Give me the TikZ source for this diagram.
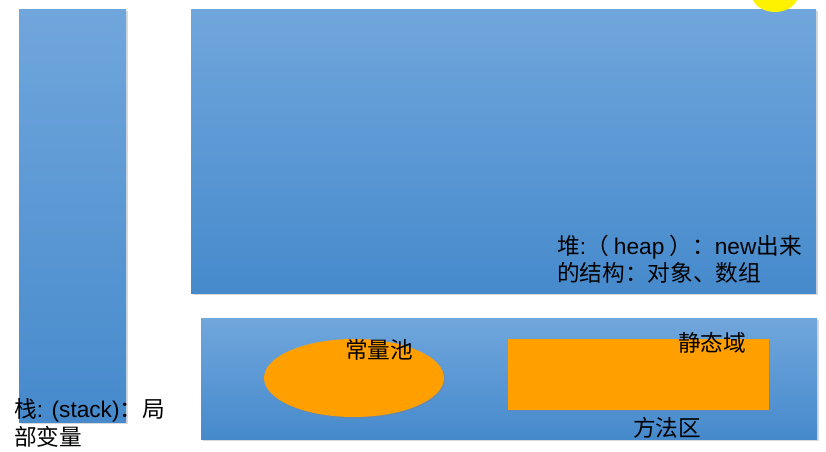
\documentclass[tikz,border=0pt]{standalone}
\usepackage{fontspec}
\setmainfont{Noto Sans CJK SC}
\newfontfamily\latinfont{Liberation Sans}
\usetikzlibrary{shadows}
\definecolor{paneltop}{RGB}{112,166,220}
\definecolor{panelbot}{RGB}{70,138,204}
\definecolor{poolorange}{RGB}{255,160,0}
\newcommand{\lat}[1]{{\latinfont #1}}
\tikzset{
  panel/.style={top color=paneltop, bottom color=panelbot,
    drop shadow={opacity=0.3, shadow xshift=1.2pt, shadow yshift=-1.2pt}},
  pool/.style={fill=poolorange,
    drop shadow={opacity=0.35, shadow xshift=1pt, shadow yshift=-1pt}},
  areatext/.style={inner sep=0pt, anchor=west, font=\fontsize{17}{20}\selectfont},
}
\begin{document}
\begin{tikzpicture}[x=0.75pt,y=-0.75pt]
        \useasboundingbox (0,0) rectangle (826,451);
        % the three memory areas
        \path[panel] (19,9) rectangle (126,422);
        \path[panel] (191,9) rectangle (816,293);
        \path[panel] (201,318) rectangle (817,439);
        % pool and static field
        \path[pool] (354,378) ellipse [x radius=90, y radius=39];
        \path[pool] (508,339) rectangle (769,410);
        \fill[yellow] (775,-5) ellipse [x radius=23, y radius=17];
        % texts
        \node[areatext] (stack1) at (14,410) {栈\lat{: (stack)}：局};
        \node[areatext] (stack2) at (14,437) {部变量};
        \node[areatext] (heap1) at (557,247) {堆\lat{:}（ \lat{heap} ）：\lat{new}出来};
        \node[areatext] (heap2) at (557,273) {的结构：对象、数组};
        \node[areatext] (pool) at (345,350) {常量池};
        \node[areatext] (static) at (678,343) {静态域};
        \node[areatext] (method) at (633,428) {方法区};
\end{tikzpicture}
\end{document}
